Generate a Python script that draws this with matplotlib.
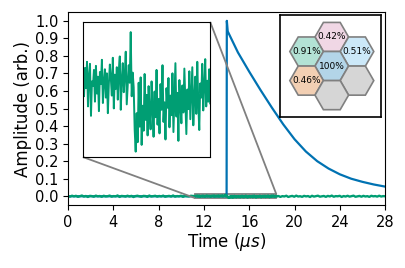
import numpy as np
import matplotlib
matplotlib.use("Agg")
import matplotlib.pyplot as plt
from matplotlib.patches import RegularPolygon
from mpl_toolkits.axes_grid1.inset_locator import mark_inset

# blue: central crystal pulse (times in us, amplitude arb.)
blue_t = [0.0, 14.0, 14.02, 14.1, 15, 16, 17, 18, 19, 20, 21, 22, 23, 24, 25, 26, 27, 28]
blue_v = [0.0, 0.0, 1.0, 0.94, 0.82, 0.71, 0.605, 0.505, 0.41, 0.325, 0.255, 0.20,
          0.158, 0.125, 0.10, 0.082, 0.067, 0.055]

# green: neighbour crystal trace, in units of 1e-3
green_left = [1.2, -2.4, 3.1, -0.8, 2.6, -3.5, 0.4, 4.2, -1.9, 1.7, -4.1, 2.2, 0.9, -2.8, 3.6, -0.5,
              1.4, -3.2, 2.9, -1.1, 0.2, 3.8, -2.6, 1.0, -0.7, 4.5, -3.9, 1.8, 0.6, -2.1, 3.3, -1.6,
              2.4, -4.4, 0.8, 3.0, -0.3, -2.9, 2.0, 1.3, -3.6, 4.0, -1.4, 0.5, 2.7, -2.3, 1.6, -0.9,
              3.5, -3.1, 0.1, 2.1, -1.8, 4.3, -2.5, 1.1, -0.6, 3.2, -3.4, 1.9, 0.3, -1.3, 2.8, 1.5]
green_zoom = [1.5, -1.0, 3.2, 0.2, 4.1, -2.5, 2.0, 3.8, -3.9, 1.2, 0.5, 2.9, -1.8, 3.5, -0.6, 1.9,
              -3.2, 2.6, 0.8, 4.4, -2.0, 1.1, 3.0, -1.2, 2.4, -3.5, 0.9, 3.7, 1.6, -0.9, 4.7, -2.8,
              2.2, 0.1, 3.3, -1.5, 2.8, 4.9, -3.0, 1.4, 3.9, -0.4, 2.1, 5.6, -2.2, 0.6, 3.6, 1.0,
              8.5, -1.0, 2.5, 0.3,
              -6.0, -9.2, -3.5, -7.8, 1.0, -5.5, 1.8, -8.2, -2.4, -6.1, 2.3, -4.5, -0.8, -6.8,
              0.5, -3.2, -5.9, 1.2, -2.6, -7.0, -0.3, -4.1, 2.9, -5.2, -1.4, -6.5, 0.8, -3.0,
              3.6, -4.8, -1.9, -7.4, 0.2, -2.7, 1.7, -5.6, -0.9, -3.8, 2.4, -6.3, -1.1, 3.9,
              -4.0, -0.5, -7.6, 1.4, -2.2, -5.0, 0.6, -3.4, 3.1, -1.7, -6.6, 0.0, -2.9, 2.7,
              -4.4, -0.7, 3.3, -5.3, -1.3, 1.9, -3.6, 4.1, -2.0, -6.0, 0.9, -1.2, 3.8, -3.1,
              0.4, 4.5, -2.5, 1.3, -1.8, 3.0]
green_right = [-2.1, 1.4, -3.8, 0.7, -1.2, 2.9, -4.0, -0.4, 1.9, -2.7, 3.4, -1.5, 0.2, -3.3, 2.2,
               -0.8, 1.1, -4.2, 2.6, -1.9, 0.5, 3.1, -2.4, -0.6, 1.6, -3.5, 2.0, -1.1, 3.7, -2.8,
               0.9, -0.2, 2.5, -3.9, 1.2, -1.7, 2.8, -2.2, 0.4, 3.3, -3.0, -0.9, 1.8, -2.6, 2.3,
               -1.4, 0.6, -3.6, 2.7, -0.5, 1.0, -2.0, 3.0, -1.6, 0.8, -0.1]

# hexagon map: light share per crystal
hex_labels = ['0.42%', '0.91%', '0.51%', '100%', '0.46%', '', '']
hex_colors = ['#f0d7e5', '#b3e2d5', '#cce8f8', '#b3d5e8', '#f2cfb3', '#d6d6d6', '#d6d6d6']

BLUE = '#0072B2'
GREEN = '#009E73'

zoom_lo, zoom_hi = 11.2, 18.4
green_t = np.concatenate([np.linspace(0, zoom_lo, len(green_left), endpoint=False),
                          np.linspace(zoom_lo, zoom_hi, len(green_zoom), endpoint=False),
                          np.linspace(zoom_hi, 28, len(green_right))])
green_v = np.array(green_left + green_zoom + green_right) * 1e-3

fig = plt.figure(figsize=(4.05, 2.68), dpi=100)
ax = fig.add_axes([0.168, 0.235, 0.783, 0.72])
ax.plot(blue_t, blue_v, color=BLUE, lw=1.6)
ax.plot(green_t, green_v, color=GREEN, lw=1.7)
ax.set_xlim(0, 28)
ax.set_ylim(-0.05, 1.05)
ax.set_xticks(np.arange(0, 29, 4))
ax.set_yticks(np.arange(0, 1.01, 0.1))
ax.tick_params(labelsize=10.5)
ax.set_xlabel(r'Time ($\mu s$)', fontsize=12, labelpad=1)
ax.set_ylabel('Amplitude (arb.)', fontsize=12, labelpad=2)

# zoomed inset of the green trace
axins = fig.add_axes([0.205, 0.414, 0.314, 0.504])
axins.plot(green_t, green_v, color=GREEN, lw=1.4)
axins.set_xlim(zoom_lo, zoom_hi)
axins.set_ylim(-0.01, 0.01)
axins.set_xticks([])
axins.set_yticks([])
mark_inset(ax, axins, loc1=3, loc2=1, fc='none', ec='0.5', lw=1.3)

# crystal map
axh = fig.add_axes([0.691, 0.563, 0.249, 0.381])
s3 = np.sqrt(3)
cells = [(0, s3), (-1.5, s3 / 2), (1.5, s3 / 2), (0, 0), (-1.5, -s3 / 2), (1.5, -s3 / 2), (0, -s3)]
for (cx, cy), lab, col in zip(cells, hex_labels, hex_colors):
    axh.add_patch(RegularPolygon((cx, cy), 6, radius=1.0, orientation=np.pi / 6,
                                 fc=col, ec='0.5', lw=1.2))
    if lab:
        axh.text(cx, cy, lab, ha='center', va='center', fontsize=6.5)
axh.set_xlim(-3.09, 2.91)
axh.set_ylim(-3.04, 3.04)
axh.set_aspect('equal')
axh.set_xticks([])
axh.set_yticks([])
for sp in axh.spines.values():
    sp.set_linewidth(1.2)

fig.savefig('out.png', dpi=100)
